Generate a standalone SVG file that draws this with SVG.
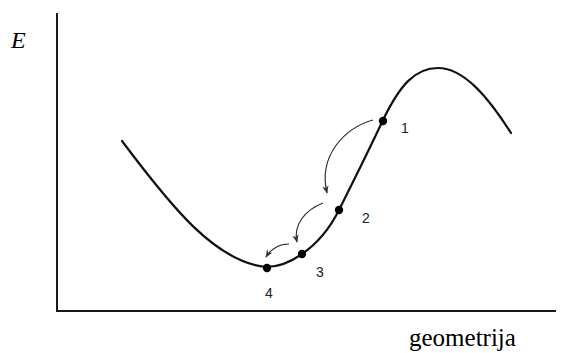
<svg xmlns="http://www.w3.org/2000/svg" width="562" height="353" viewBox="0 0 562 353">
<style>
.axis{stroke:#1a1a1a;stroke-width:2;fill:none}
.curve{stroke:#111;stroke-width:2.2;fill:none;stroke-linecap:round}
.arr{stroke:#333;stroke-width:1.2;fill:none;marker-end:url(#ah)}
.dot{fill:#000}
.num{font-family:"Liberation Sans",Arial,sans-serif;font-size:14px;fill:#222;text-anchor:middle}
.lbl{font-family:"Liberation Serif","Times New Roman",serif;fill:#000}
</style>
<defs>
<marker id="ah" viewBox="0 0 10 10" refX="9" refY="5" markerWidth="8" markerHeight="8" markerUnits="userSpaceOnUse" orient="auto">
<path d="M0,1 L10,5 L0,9 L3,5 Z" fill="#333"/>
</marker>
</defs>
<rect width="562" height="353" fill="#fff"/>
<g id="axes">
<path class="axis" d="M57,13 V311 H556"/>
<text class="lbl" x="11" y="48" font-size="24" font-style="italic">E</text>
<text class="lbl" x="409" y="346" font-size="25">geometrija</text>
</g>
<g id="energy-curve">
<path class="curve" d="M122,141 C170,205 215,262 266,267 C280,267 292,261 302,254 C318,243 330,228 339,210 C355,178 370,148 383,120 C400,85 415,68 438,68 C465,68 490,100 511,133"/>
</g>
<g id="connectors">
<path class="arr" d="M373,120 C345,128 318,155 327,193"/>
<path class="arr" d="M323,203 C305,210 293,225 297,242"/>
<path class="arr" d="M289,244 C279,244 271,249 266,257"/>
</g>
<g id="p1"><circle class="dot" cx="383" cy="121" r="4.2"/><text class="num" x="405" y="133">1</text></g>
<g id="p2"><circle class="dot" cx="339" cy="210" r="4.2"/><text class="num" x="366" y="223">2</text></g>
<g id="p3"><circle class="dot" cx="302" cy="254" r="4.2"/><text class="num" x="320" y="277">3</text></g>
<g id="p4"><circle class="dot" cx="267" cy="268" r="4.2"/><text class="num" x="269" y="298">4</text></g>
</svg>
